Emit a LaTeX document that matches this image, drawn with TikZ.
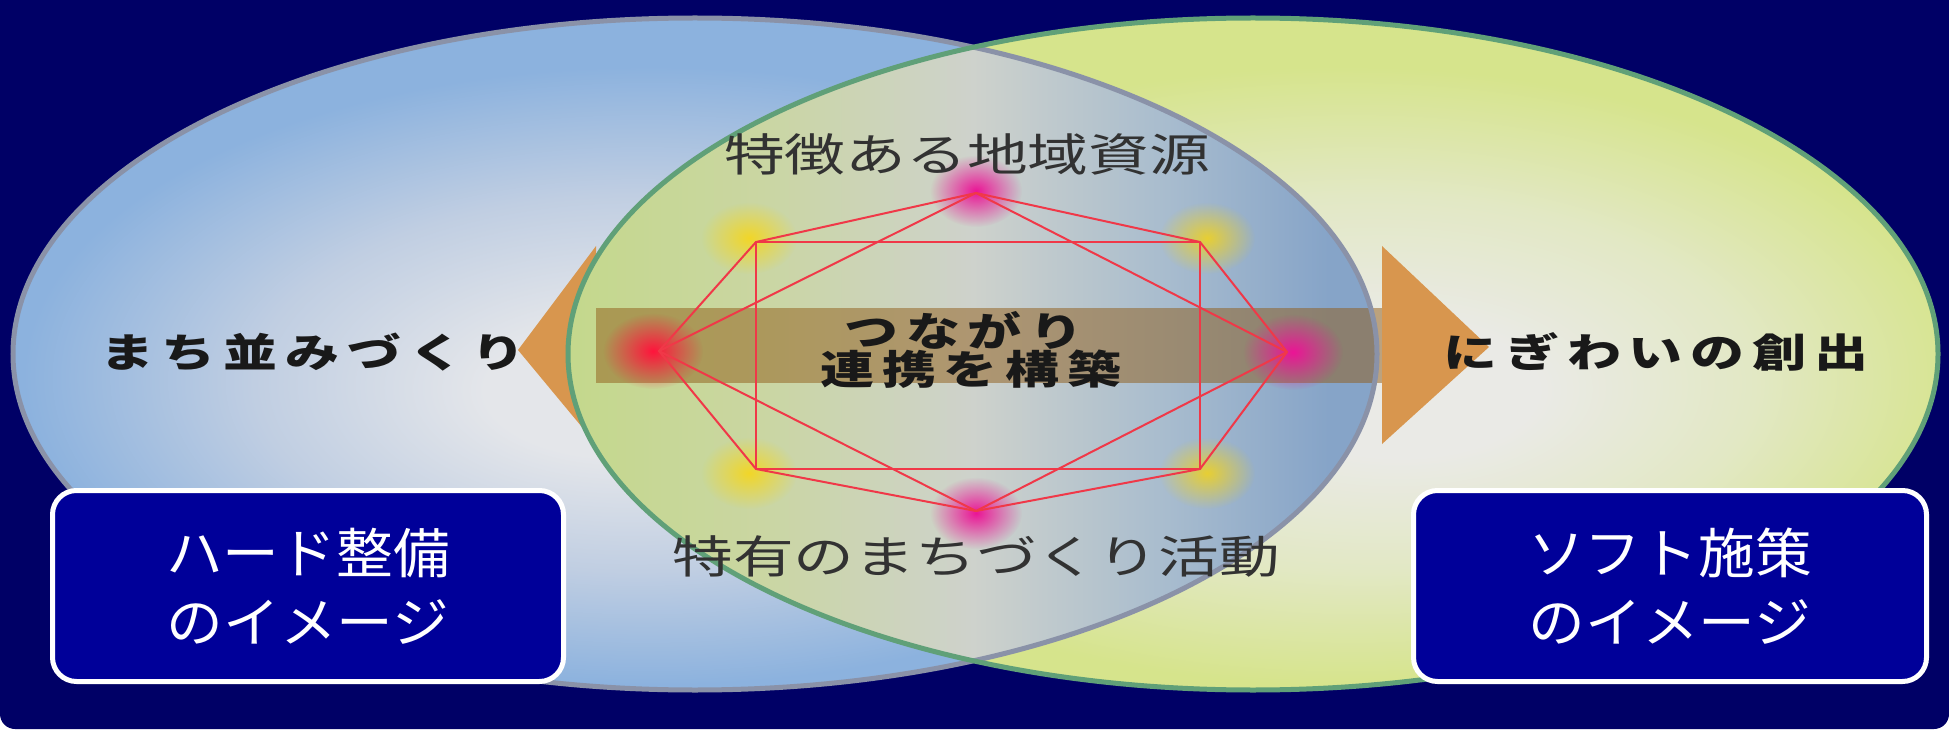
\documentclass[tikz,border=0pt]{standalone}
\usepackage{fontspec}
\usetikzlibrary{fadings}
\newfontfamily\jpreg[FakeStretch=1.35]{Noto Sans CJK JP}
\newfontfamily\jpbold[FakeStretch=1.35,LetterSpace=20]{Noto Sans CJK JP}
\newfontfamily\jpbox[FakeStretch=1.05]{Noto Sans CJK JP}
\definecolor{navybg}{RGB}{0,0,102}
\definecolor{boxfill}{RGB}{0,0,153}
\definecolor{blueedge}{RGB}{140,178,222}
\definecolor{bluemid}{RGB}{192,206,226}
\definecolor{bluecen}{RGB}{228,230,234}
\definecolor{bluering}{RGB}{138,146,168}
\definecolor{greenedge}{RGB}{214,228,140}
\definecolor{greenmid}{RGB}{226,232,196}
\definecolor{greencen}{RGB}{234,234,230}
\definecolor{greenring}{RGB}{96,160,120}
\definecolor{lensl}{RGB}{196,216,140}
\definecolor{lensml}{RGB}{202,214,162}
\definecolor{lensc}{RGB}{206,210,204}
\definecolor{lensmr}{RGB}{168,188,206}
\definecolor{lensr}{RGB}{134,164,200}
\definecolor{arroworange}{RGB}{216,150,78}
\definecolor{shaftbrown}{RGB}{144,92,24}
\definecolor{redline}{RGB}{240,56,72}
\definecolor{glowmag}{RGB}{235,20,150}
\definecolor{glowred}{RGB}{255,20,60}
\definecolor{glowyel}{RGB}{255,215,0}
\definecolor{labelgray}{RGB}{50,50,50}
\definecolor{labeldark}{RGB}{25,25,25}
\pgfdeclareradialshading{blueshade}{\pgfpoint{-3bp}{-3bp}}{color(0bp)=(bluecen); color(5bp)=(bluecen); color(14bp)=(bluemid); color(23bp)=(blueedge); color(50bp)=(blueedge)}
\pgfdeclareradialshading{greenshade}{\pgfpoint{6bp}{-3bp}}{color(0bp)=(greencen); color(5bp)=(greencen); color(14bp)=(greenmid); color(23bp)=(greenedge); color(50bp)=(greenedge)}
\pgfdeclarehorizontalshading{lensshade}{100bp}{color(0bp)=(lensl); color(25bp)=(lensl); color(37bp)=(lensml); color(50bp)=(lensc); color(62bp)=(lensmr); color(72bp)=(lensr); color(100bp)=(lensr)}
\tikzfading[name=glowfade, inner color=transparent!0, outer color=transparent!100]
\tikzset{
  ring/.style={line width=5pt},
  redl/.style={draw=redline, line width=2pt, line join=round},
  boxstyle/.style={draw=white, line width=5pt, fill=boxfill, rounded corners=24pt, text=white, align=center, font=\jpbox\fontsize{54}{69}\selectfont, inner sep=0pt},
  reglabel/.style={text=labelgray, font=\jpreg\fontsize{45}{50}\selectfont, inner sep=0pt},
  boldlabel/.style={text=labeldark, font=\jpbold\bfseries\fontsize{40}{46}\selectfont, inner sep=0pt},
  glow/.style={path fading=glowfade}
}
\begin{document}
\begin{tikzpicture}[x=1pt,y=-1pt]
\useasboundingbox (0,0) rectangle (1949,735);
\fill[white] (0,0) rectangle (1949,735);
\fill[navybg, rounded corners=15pt] (0,-40) rectangle (1949,729);
% ellipses
\coordinate (bc) at (695,354);
\coordinate (gc) at (1253,354);
\shade[shading=greenshade] (gc) ellipse [x radius=685, y radius=336];
\shade[shading=blueshade] (bc) ellipse [x radius=682, y radius=336];
% arrow heads
\coordinate (ltip) at (518,350);
\coordinate (ltop) at (596,246);
\coordinate (lbot) at (596,444);
\coordinate (rtip) at (1489,347);
\coordinate (rtop) at (1382,246);
\coordinate (rbot) at (1382,444);
\fill[arroworange] (ltip) -- (ltop) -- (lbot) -- cycle;
\fill[arroworange] (rtip) -- (rtop) -- (rbot) -- cycle;
% overlap lens
\begin{scope}
  \clip (bc) ellipse [x radius=682, y radius=336];
  \clip (gc) ellipse [x radius=685, y radius=336];
  \shade[shading=lensshade] (568,18) rectangle (1377,690);
\end{scope}
% shaft
\coordinate (sa) at (596,308);
\coordinate (sb) at (1382,383);
\fill[shaftbrown, opacity=0.5] (sa) rectangle (sb);
% rings
\draw[ring, draw=bluering] (bc) ellipse [x radius=682, y radius=336];
\draw[ring, draw=greenring] (gc) ellipse [x radius=685, y radius=336];
% figure points
\coordinate (T) at (976,193);
\coordinate (B) at (976,511);
\coordinate (L) at (659,351);
\coordinate (R) at (1287,352);
\coordinate (TL) at (756,242);
\coordinate (TR) at (1200,242);
\coordinate (BL) at (756,469);
\coordinate (BR) at (1200,469);
% glows
\fill[glowyel, glow, opacity=0.75] ([shift={(-7,-4)}]TL) ellipse [x radius=48, y radius=36];
\fill[glowyel, glow, opacity=0.75] ([shift={(7,-4)}]TR) ellipse [x radius=48, y radius=36];
\fill[glowyel, glow, opacity=0.75] ([shift={(-7,4)}]BL) ellipse [x radius=48, y radius=36];
\fill[glowyel, glow, opacity=0.75] ([shift={(7,4)}]BR) ellipse [x radius=48, y radius=36];
\fill[glowmag, glow] ([shift={(0,-2)}]T) ellipse [x radius=46, y radius=36];
\fill[glowmag, glow] ([shift={(0,2)}]B) ellipse [x radius=46, y radius=36];
\fill[glowred, glow] ([shift={(-6,0)}]L) ellipse [x radius=50, y radius=38];
\fill[glowmag, glow] ([shift={(6,0)}]R) ellipse [x radius=50, y radius=38];
% lines
\draw[redl] (T) -- (TR) -- (R) -- (BR) -- (B) -- (BL) -- (L) -- (TL) -- cycle;
\draw[redl] (TL) -- (TR) -- (BR) -- (BL) -- cycle;
\draw[redl] (T) -- (R) -- (B) -- (L) -- cycle;
% labels
\node[reglabel] (top) at (967,154) {特徴ある地域資源};
\node[reglabel] (bottom) at (976,556) {特有のまちづくり活動};
\node[boldlabel] (left) at (313,352) {まち並みづくり};
\node[boldlabel] (right) at (1656,352) {にぎわいの創出};
\node[boldlabel] (c1) at (964,330) {つながり};
\node[boldlabel] (c2) at (971,369) {連携を構築};
% boxes
\node[boxstyle, minimum width=511pt, minimum height=191pt] (hard) at (308,586) {ハード整備\\のイメージ};
\node[boxstyle, minimum width=513pt, minimum height=191pt] (soft) at (1670,586) {ソフト施策\\のイメージ};
\end{tikzpicture}
\end{document}
